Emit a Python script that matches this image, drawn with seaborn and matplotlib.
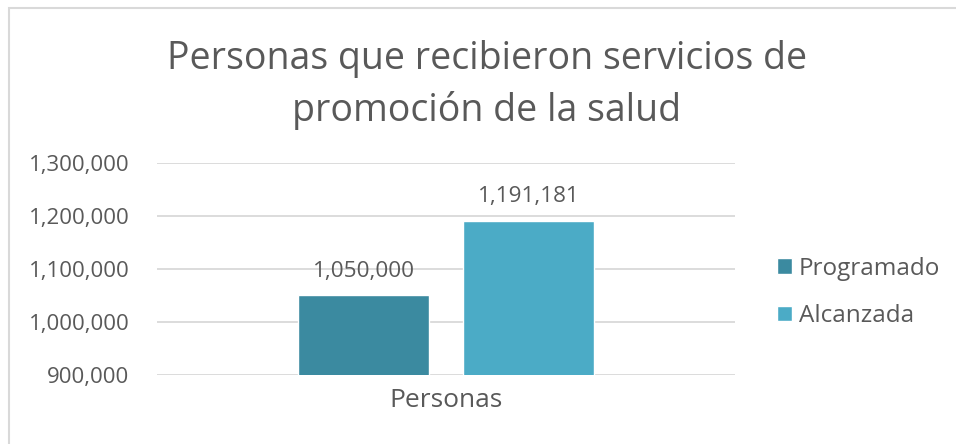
import matplotlib
matplotlib.use("Agg")
import matplotlib.pyplot as plt
import pandas as pd
import seaborn as sns
from matplotlib.patches import Rectangle
from matplotlib.ticker import FuncFormatter

# values
categories = ["Personas"]
series = ["Programado", "Alcanzada"]
values = [1050000, 1191181]
value_labels = ["1,050,000", "1,191,181"]
colors = ["#3B8AA0", "#4BABC6"]
y_ticks = [900000, 1000000, 1100000, 1200000, 1300000]

title = "Personas que recibieron servicios de\npromoción de la salud"
text_gray = "#595959"

df = pd.DataFrame({"cat": categories * len(series), "serie": series, "valor": values})

sns.set_theme(style="white")
plt.rcParams['font.family'] = ['Open Sans', 'DejaVu Sans']

W, H = 956, 444
fig = plt.figure(figsize=(W / 100, H / 100), dpi=100)
ax = fig.add_axes([157 / W, 1 - 375 / H, (735 - 157) / W, (375 - 163) / H])

sns.barplot(data=df, x="cat", y="valor", hue="serie", palette=colors,
            width=0.571, gap=0.21, ax=ax, saturation=1, zorder=3)

ax.set_ylim(900000, 1300000)
ax.set_xlim(-0.5, 0.5)
ax.set_yticks(y_ticks)
ax.yaxis.set_major_formatter(FuncFormatter(lambda v, p: f"{int(v):,}"))
ax.grid(axis="y", color="#D9D9D9", linewidth=1.3, zorder=0)
for s in ax.spines.values():
    s.set_visible(False)
ax.tick_params(axis="y", length=0, pad=20, labelsize=16, labelcolor=text_gray)
ax.tick_params(axis="x", length=0, pad=9.5, labelsize=19, labelcolor=text_gray)
ax.set_xlabel("")
ax.set_ylabel("")

# data labels
for cont, lab in zip(ax.containers, value_labels):
    ax.bar_label(cont, labels=[lab], padding=10, fontsize=16.2, color=text_gray)

# legend
leg = ax.legend(loc="center left", bbox_to_anchor=((777 - 157) / (735 - 157), 0.39),
                borderaxespad=0, borderpad=0,
                frameon=False, fontsize=17.5, handlelength=0.6, handleheight=0.6,
                handletextpad=0.3, labelspacing=0.95, labelcolor=text_gray)

fig.text(487 / W, 1 - 85 / H, title, ha="center", va="center", fontsize=27,
         color=text_gray, linespacing=1.45)

# chart frame
fig.patches.append(Rectangle((9 / W, -0.2), 1.2, 1.2 - 8 / H, transform=fig.transFigure,
                             fill=False, edgecolor="#D9D9D9", linewidth=1.5, zorder=0))

fig.savefig("out.png", dpi=100)
